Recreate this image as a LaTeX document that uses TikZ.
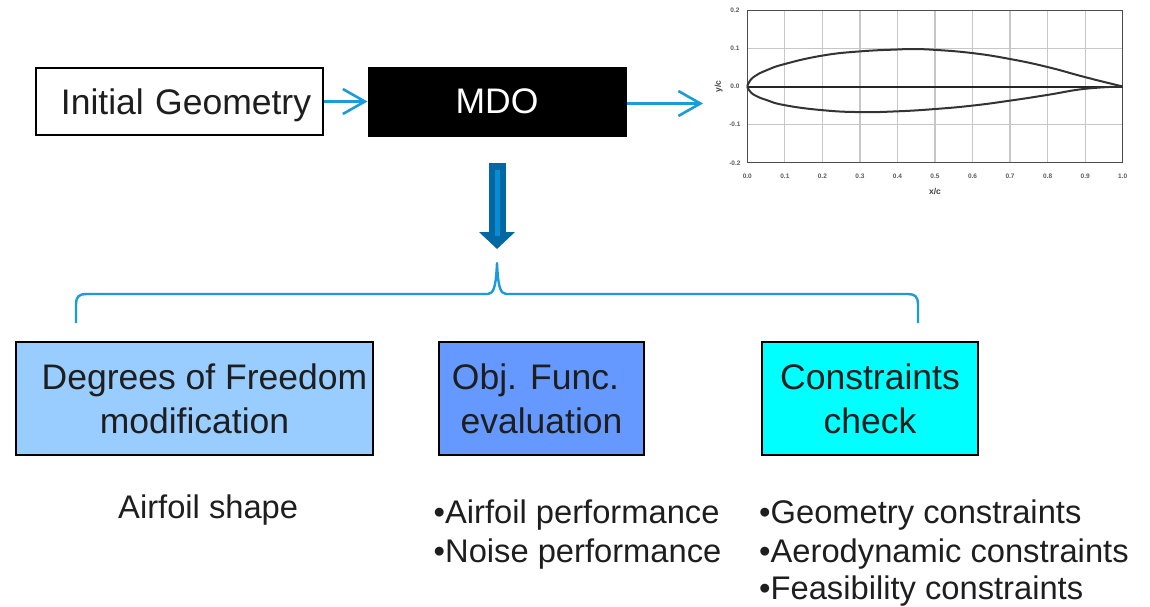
\documentclass[tikz,border=0pt]{standalone}
\usepackage{fontspec}
\setmainfont{Liberation Sans}
\definecolor{LineBlue}{RGB}{27, 155, 217}
\definecolor{DarkBlue}{RGB}{0, 104, 163}
\definecolor{MidBlue}{RGB}{10, 140, 210}
\definecolor{SkyBox}{RGB}{153, 204, 255}
\definecolor{ObjBox}{RGB}{102, 153, 255}
\definecolor{AquaBox}{RGB}{0, 255, 255}
\definecolor{InkGrey}{RGB}{30, 30, 30}
\usetikzlibrary{arrows.meta, positioning, calc}
\tikzset{
    mainbox/.style={draw=black, line width=2pt, inner sep=0pt, align=center, text=InkGrey,
        font=\fontsize{35.5}{44}\selectfont},
    subtext/.style={anchor=west, inner sep=0pt, text=InkGrey, font=\fontsize{32.7}{36}\selectfont},
    thinarrow/.style={line width=2.6pt, LineBlue, -{Straight Barb[length=22pt, width=25pt]}},
    ticklabel/.style={inner sep=0pt, text=black!65, font=\bfseries\fontsize{6.5}{7}\selectfont},
    axislabel/.style={inner sep=0pt, text=black!75, font=\bfseries\fontsize{8.5}{9}\selectfont},
}

\begin{document}
\begin{tikzpicture}[x=1pt, y=-1pt]
    \useasboundingbox (0,0) rectangle (1150,606);

    % Top row
    \node[mainbox, fill=white, minimum width=287pt, minimum height=67pt] (initial) at (179.5,101.5) {\hspace*{13pt}\raisebox{-13pt}[0pt][0pt]{Initial\hspace{1.5pt} Geometry}};
    \node[mainbox, fill=black, text=white, minimum width=257pt, minimum height=68pt] (mdo) at (497,101.5) {MDO};
    \coordinate (plotin) at (703,103.5);
    \draw[thinarrow] (initial) -- (mdo);
    \draw[thinarrow] (mdo.east |- plotin) -- (plotin);

    % Airfoil plot
    \begin{scope}[shift={(747.3,86.5)}, x=375.4pt, y=381.7pt]
        \foreach \gx in {0.1,0.2,...,0.9}
            \draw[line width=1.2pt, black!22] (\gx,-0.2) -- (\gx,0.2);
        \foreach \gy in {-0.1,0.1}
            \draw[line width=1.2pt, black!22] (0,\gy) -- (1,\gy);
        \draw[line width=1.2pt, black!70] (0,-0.2) rectangle (1,0.2);
        \foreach \gx in {0.0,0.1,0.2,0.3,0.4,0.5,0.6,0.7,0.8,0.9,1.0}
            \node[ticklabel] at (\gx,-0.2345) {\gx};
        \foreach \gy in {-0.2,-0.1,0.0,0.1,0.2}
            \node[ticklabel] at (-0.033,\gy) {\gy};
        \node[axislabel] (xlabel) at (0.5,-0.276) {x/c};
        \node[axislabel, rotate=90] (ylabel) at (-0.076,0) {y/c};

        % Upper and lower surface, chord line
        \draw[line width=2pt, black!85] (0,0) -- (1,0);
        \draw[line width=2pt, black!80, smooth, tension=0.8] plot coordinates {(0,0) (0.005,0.012) (0.02,0.027) (0.05,0.042) (0.1,0.059) (0.2,0.081) (0.3,0.092) (0.4,0.097) (0.44,0.098) (0.5,0.096) (0.6,0.0875) (0.7,0.072) (0.8,0.051) (0.9,0.0245) (1,0)};
        \draw[line width=2pt, black!80, smooth, tension=0.8] plot coordinates {(0,0) (0.005,-0.01) (0.02,-0.023) (0.05,-0.035) (0.1,-0.049) (0.2,-0.062) (0.3,-0.067) (0.4,-0.065) (0.5,-0.059) (0.6,-0.05) (0.7,-0.037) (0.8,-0.022) (0.9,-0.006) (1,0)};
    \end{scope}

    % Big down arrow
    \coordinate (bigtop) at (497,163);
    \coordinate (bigtip) at (497,249);
    \coordinate (bigin) at (497,236);
    \draw[line width=17pt, DarkBlue, -{Triangle[length=17pt, width=35pt]}] (bigtop) -- (bigtip);
    \draw[line width=5pt, MidBlue] ($(bigtop)+(0,7)$) -- (bigin);

    % Brace
    \coordinate (braceleft) at (76,323);
    \coordinate (braceright) at (918,323);
    \coordinate (bracetop) at (497,263);
    \draw[line width=2.4pt, LineBlue, line join=round]
        (braceleft) -- (76,304) .. controls (76,297) and (79,294) .. (86,294)
        -- (488,294) .. controls (494,294) and (496,285) .. (bracetop)
        .. controls (498,285) and (500,294) .. (506,294)
        -- (908,294) .. controls (915,294) and (918,297) .. (918,304) -- (braceright);

    % Lower boxes
    \node[mainbox, fill=SkyBox, minimum width=357pt, minimum height=113pt] (dof) at (194.5,398.5) {\hspace*{20pt}Degrees of Freedom\\modification};
    \node[mainbox, fill=ObjBox, minimum width=205pt, minimum height=113pt] (obj) at (541.5,398.5) {Obj. Func.\hspace*{12pt}\\evaluation};
    \node[mainbox, fill=AquaBox, minimum width=216pt, minimum height=113pt] (con) at (870,398.5) {Constraints\\check};

    % Lists below the boxes
    \node[subtext] (shape) at (118,510) {Airfoil shape};
    \node[subtext] (perf1) at (433.5,515) {•Airfoil performance};
    \node[subtext] (perf2) at (433.5,554) {•Noise performance};
    \node[subtext] (con1) at (759,515) {•Geometry constraints};
    \node[subtext] (con2) at (759,554) {•Aerodynamic constraints};
    \node[subtext] (con3) at (759,591.5) {•Feasibility constraints};
\end{tikzpicture}
\end{document}
